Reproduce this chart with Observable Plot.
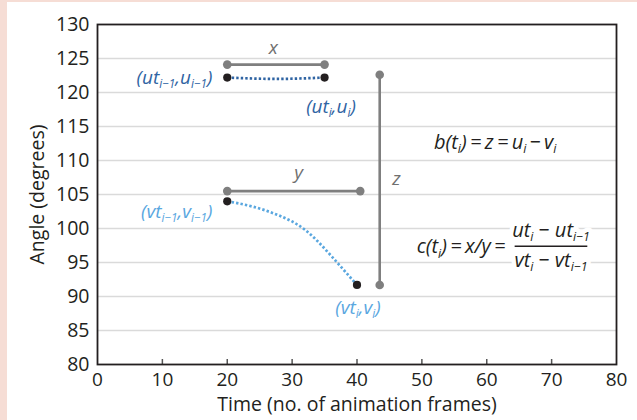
<!DOCTYPE html>
<html><head><meta charset="utf-8">
<script src="https://cdn.jsdelivr.net/npm/d3@7"></script>
<script src="https://cdn.jsdelivr.net/npm/@observablehq/plot@0.6"></script>
<style>
html,body{margin:0;padding:0;background:#f6ddd5;width:637px;height:420px;overflow:hidden}
#panel{position:absolute;left:7px;top:2px;width:630px;height:418px;background:#fff}
</style></head><body><div id="panel"></div>
<script>
// axis ticks
const xTicks = [0, 10, 20, 30, 40, 50, 60, 70, 80];
const innerTicks = [10, 20, 30, 40, 50, 60, 70];
const yTicks = [80, 85, 90, 95, 100, 105, 110, 115, 120, 125, 130];
const gridValues = [85, 90, 95, 100, 105, 110, 115, 120, 125];

// u series (dark blue dotted)
const uTime = [20, 27.5, 35];
const uAngle = [122.2, 122.0, 122.2];
// v series (light blue dotted)
const vTime = [20, 24, 28, 32, 36, 40];
const vAngle = [104.0, 103.2, 101.9, 99.8, 96.0, 91.7];

// horizontal gray segments x and y
const hSegStart = [20, 20];
const hSegEnd = [35, 40.5];
const hSegAngle = [124.1, 105.5];
// vertical gray segment z
const zTime = [43.5];
const zTop = [122.6];
const zBottom = [91.7];

// segment name labels
const segLabels = ["x", "y", "z"];
const segLabelTime = [27.1, 31.0, 46.1];
const segLabelAngle = [126.6, 108.2, 107.3];

// point labels
const ptLabels = ["(ut_{i−1},u_{i−1})", "(ut_{i},u_{i})", "(vt_{i−1},v_{i−1})", "(vt_{i},v_{i})"];
const ptTime = [17.7, 36.0, 17.7, 40.15];
const ptAngle = [122.2, 117.9, 102.4, 88.3];
const ptAnchor = ["end", "middle", "end", "middle"];
const ptSeries = ["u", "u", "v", "v"];

// formulas
const fTexts = ["b(t_{i})\u2009=\u2009z\u2009=\u2009u_{i}\u2009−\u2009v_{i}", "c(t_{i})\u2009=\u2009x/y\u2009=", "ut_{i} − ut_{i−1}", "vt_{i} − vt_{i−1}"];
const fTime = [61.3, 62.9, 69.9, 69.9];
const fAngle = [112.7, 97.3, 99.7, 95.3];
const fAnchor = ["middle", "end", "middle", "middle"];
const fHalo = [false, false, true, true];
const fracBarStart = [64.3], fracBarEnd = [75.5], fracBarAngle = [97.4];

const dark = "#2f64a3", light = "#5aa7df", gray = "#7f7f7f", ink = "#231f20";
const seriesColor = {u: dark, v: light};

const uData = uTime.map((t, i) => ({t, a: uAngle[i]}));
const vData = vTime.map((t, i) => ({t, a: vAngle[i]}));
const hSegs = hSegStart.map((t1, i) => ({t1, t2: hSegEnd[i], a: hSegAngle[i]}));
const zSegs = zTime.map((t, i) => ({t, a1: zTop[i], a2: zBottom[i]}));
const grayDots = [
  ...hSegs.flatMap(d => [{t: d.t1, a: d.a}, {t: d.t2, a: d.a}]),
  ...zSegs.flatMap(d => [{t: d.t, a: d.a1}, {t: d.t, a: d.a2}])
];
const blackDots = [uData[0], uData[uData.length - 1], vData[0], vData[vData.length - 1]];
const segLabelData = segLabels.map((s, i) => ({s, t: segLabelTime[i], a: segLabelAngle[i]}));
const ptData = ptLabels.map((s, i) => ({s, t: ptTime[i], a: ptAngle[i], anchor: ptAnchor[i], c: seriesColor[ptSeries[i]]}));
const fData = fTexts.map((s, i) => ({s, t: fTime[i], a: fAngle[i], anchor: fAnchor[i], halo: fHalo[i]}));
const fracBar = fracBarStart.map((t1, i) => ({t1, t2: fracBarEnd[i], a: fracBarAngle[i]}));

const ptText = anchor => Plot.text(ptData.filter(d => d.anchor === anchor), {
  x: "t", y: "a", text: "s", fill: "c", textAnchor: anchor, fontStyle: "italic", fontSize: 19
});

const chart = Plot.plot({
  width: 630, height: 418,
  marginLeft: 90, marginRight: 21, marginTop: 22, marginBottom: 56,
  style: {fontFamily: "'Open Sans', sans-serif", fontSize: "19px", color: ink, background: "transparent"},
  x: {domain: [0, 80]},
  y: {domain: [80, 130]},
  marks: [
    Plot.ruleY(gridValues, {stroke: "#dadada", strokeWidth: 1.6}),
    Plot.axisX({ticks: innerTicks, tickSize: -5, tickFormat: () => "", stroke: "#555", strokeWidth: 1.5, label: null}),
    Plot.axisX({ticks: xTicks, tickSize: 0, tickPadding: 8, label: null, fontSize: 19}),
    Plot.axisY({ticks: yTicks, tickSize: 0, tickPadding: 8, label: null, fontSize: 19.5}),
    Plot.text(["Angle (degrees)"], {frameAnchor: "left", textAnchor: "middle", lineAnchor: "middle", rotate: -90, dx: -60, fontSize: 19.5, fill: ink}),
    Plot.text(["Time (no. of animation frames)"], {frameAnchor: "bottom", textAnchor: "middle", lineAnchor: "middle", dy: 40, fontSize: 19.5, fill: ink}),
    Plot.line(uData, {x: "t", y: "a", curve: "natural", stroke: dark, strokeWidth: 2.7, strokeLinecap: "butt", strokeDasharray: "2.4,2.1"}),
    Plot.line(vData, {x: "t", y: "a", curve: "natural", stroke: light, strokeWidth: 2.7, strokeLinecap: "butt", strokeDasharray: "2.4,2.1"}),
    Plot.link(hSegs, {x1: "t1", x2: "t2", y1: "a", y2: "a", stroke: gray, strokeWidth: 2.6}),
    Plot.link(zSegs, {x1: "t", x2: "t", y1: "a1", y2: "a2", stroke: gray, strokeWidth: 2.6}),
    Plot.dot(grayDots, {x: "t", y: "a", r: 4.3, fill: gray}),
    Plot.dot(blackDots, {x: "t", y: "a", r: 4.1, fill: ink}),
    Plot.text(segLabelData, {x: "t", y: "a", text: "s", fill: "#707070", fontStyle: "italic", fontSize: 19}),
    ptText("end"),
    ptText("middle"),
    Plot.text(fData.filter(d => d.halo), {x: "t", y: "a", text: "s", fill: "white", stroke: "white", strokeWidth: 9, strokeLinejoin: "round", fontStyle: "italic", fontSize: 20}),
    Plot.text(fData.filter(d => d.anchor === "end"), {x: "t", y: "a", text: "s", textAnchor: "end", fill: ink, fontStyle: "italic", fontSize: 20}),
    Plot.text(fData.filter(d => d.anchor === "middle"), {x: "t", y: "a", text: "s", textAnchor: "middle", fill: ink, fontStyle: "italic", fontSize: 20}),
    Plot.link(fracBar, {x1: "t1", x2: "t2", y1: "a", y2: "a", stroke: ink, strokeWidth: 1.4}),
    Plot.frame({stroke: ink, strokeWidth: 1.8})
  ]
});
document.getElementById("panel").appendChild(chart);

// subscript post-processing
chart.querySelectorAll("text").forEach(t => {
  const s = t.textContent;
  if (!s.includes("_{")) return;
  const fs = parseFloat(getComputedStyle(t).fontSize) || 19;
  const subFs = Math.round(fs * 0.62 * 10) / 10;
  const shift = Math.round(fs * 0.22 * 10) / 10;
  const parts = [];
  const re = /_\{([^}]*)\}/g;
  let last = 0, m;
  while ((m = re.exec(s))) {
    parts.push([s.slice(last, m.index), false]);
    parts.push([m[1], true]);
    last = re.lastIndex;
  }
  parts.push([s.slice(last), false]);
  while (t.firstChild) t.removeChild(t.firstChild);
  let cur = 0;
  for (const [str, sub] of parts) {
    if (!str) continue;
    const ts = document.createElementNS("http://www.w3.org/2000/svg", "tspan");
    const want = sub ? shift : 0;
    if (want !== cur) ts.setAttribute("dy", want - cur);
    cur = want;
    if (sub) ts.setAttribute("font-size", subFs);
    ts.textContent = str;
    t.appendChild(ts);
  }
});
</script></body></html>
